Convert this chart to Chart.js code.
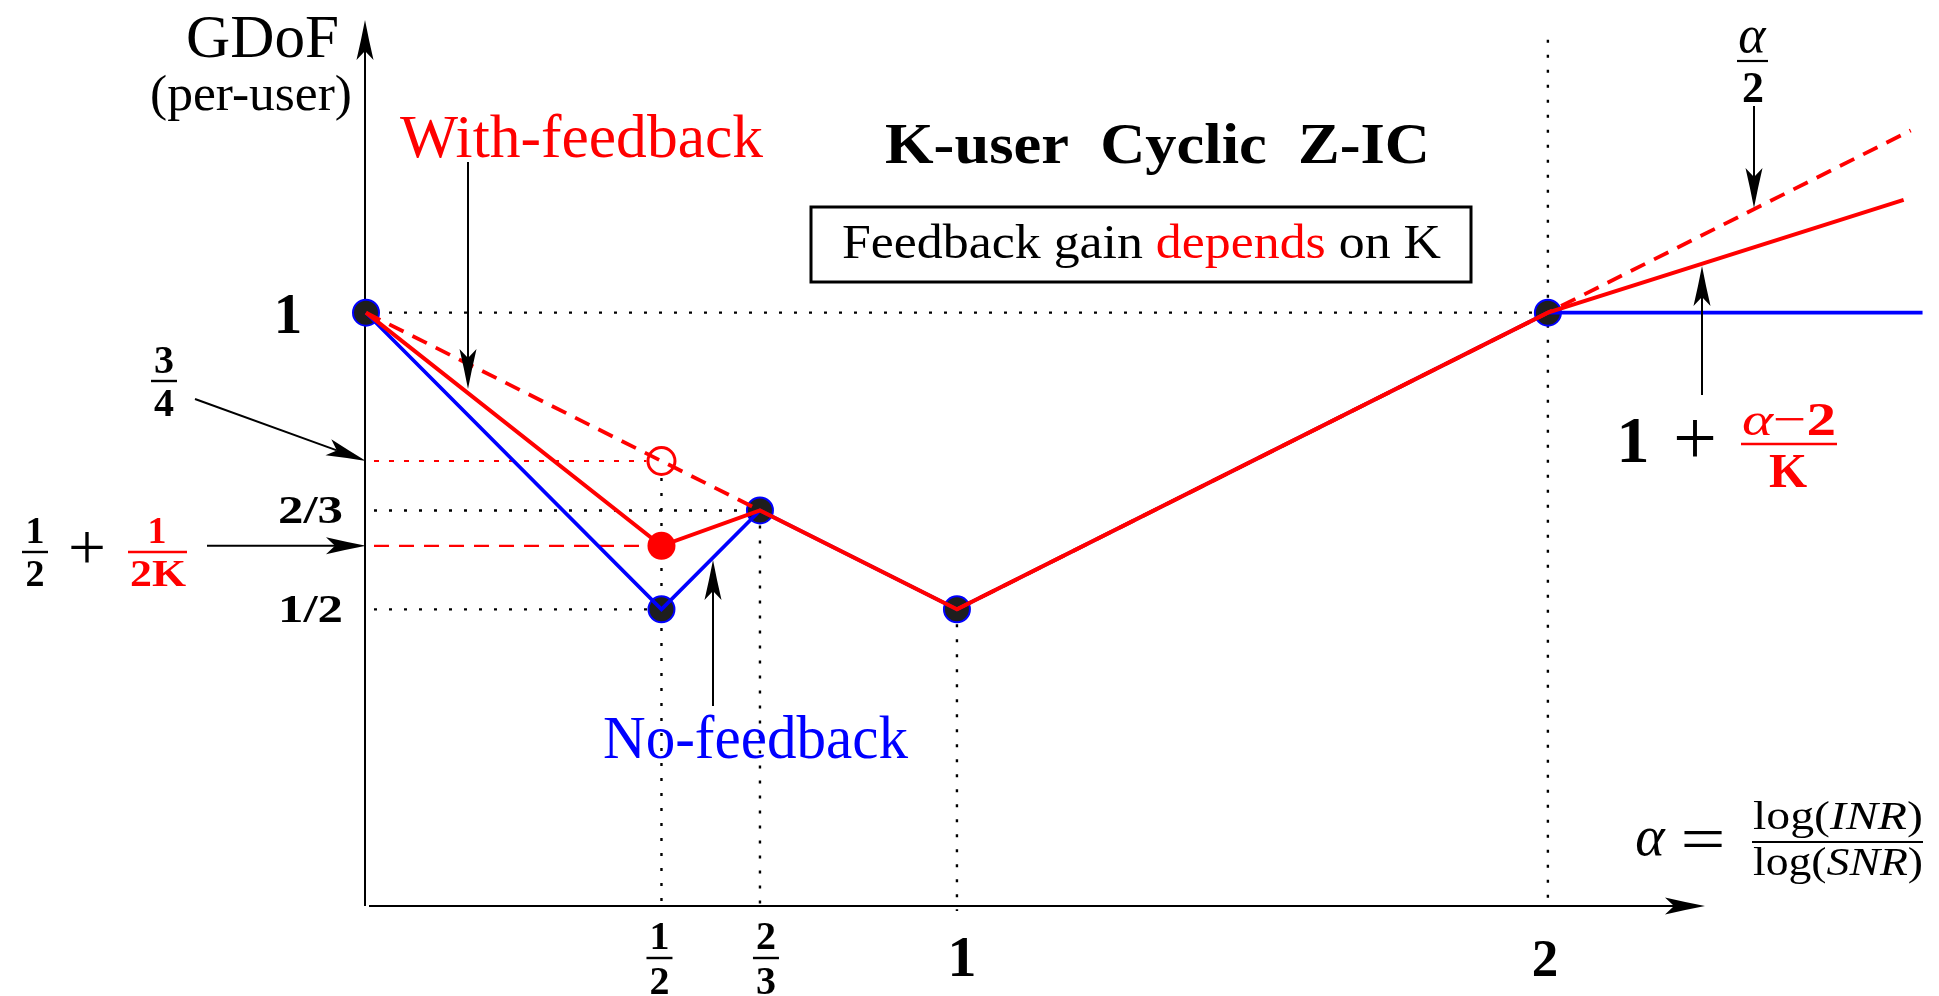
<!DOCTYPE html>
<html>
<head>
<meta charset="utf-8">
<script src="https://cdn.jsdelivr.net/npm/chart.js@4.4.0/dist/chart.umd.min.js"></script>
<style>
html,body{margin:0;padding:0;background:#fff;overflow:hidden}
canvas{display:block}
</style>
</head>
<body>
<canvas id="c" width="1939" height="996"></canvas>
<script>
// ---------- data (alpha = log INR / log SNR, GDoF per user) ----------
const cornerAlpha = [0, 1/2, 2/3, 1, 2];
const cornerGdof  = [1, 1/2, 2/3, 1/2, 1];

const noFeedbackAlpha = [0, 1/2, 2/3, 1, 2, 2.634];
const noFeedbackGdof  = [1, 1/2, 2/3, 1/2, 1, 1];

const withFeedbackAlpha = [0, 1/2, 2/3, 1, 2, 2.602];
const withFeedbackGdof  = [1, 0.607, 2/3, 1/2, 1, 1.19];

const boundLeftAlpha  = [0, 1/2, 2/3];
const boundLeftGdof   = [1, 3/4, 2/3];
const boundRightAlpha = [1, 2, 2.614];
const boundRightGdof  = [1/2, 1, 1.307];

const feedbackPointAlpha = [1/2];
const feedbackPointGdof  = [0.607];
const openPointAlpha = [1/2];
const openPointGdof  = [3/4];

const xTickValues = [1/2, 2/3, 1, 2];
const xTickLabels = [['1','2'], ['2','3'], '1', '2'];
const yTickValues = [1/2, 2/3];
const yTickLabels = ['1/2', '2/3'];

// ---------- helpers ----------
const pts = (xs, ys) => xs.map((x, i) => ({x: x, y: ys[i]}));
const SERIF = '"Liberation Serif", "Times New Roman", serif';
const F = (size, style) => (style ? style + ' ' : '') + size + 'px ' + SERIF;
const RED = '#ff0000', BLUE = '#0000ff';

function drawParts(ctx, parts, x, y, align, width) {
  ctx.save();
  let total = 0;
  const ws = parts.map(p => { ctx.font = p.f; const w = ctx.measureText(p.t).width; total += w; return w; });
  const target = width || total;
  const sx = target / total;
  const left = align === 'center' ? x - target / 2 : (align === 'right' ? x - target : x);
  ctx.translate(left, y);
  ctx.scale(sx, 1);
  ctx.textAlign = 'left';
  ctx.textBaseline = 'alphabetic';
  let cx = 0;
  parts.forEach((p, i) => { ctx.font = p.f; ctx.fillStyle = p.c; ctx.fillText(p.t, cx, 0); cx += ws[i]; });
  ctx.restore();
}
function txt(ctx, t, x, y, font, color, align, width) {
  drawParts(ctx, [{t: t, f: font, c: color || '#000'}], x, y, align || 'left', width);
}
function line(ctx, x1, y1, x2, y2, color, lw, dash) {
  ctx.save();
  ctx.strokeStyle = color; ctx.lineWidth = lw; ctx.setLineDash(dash || []);
  ctx.beginPath(); ctx.moveTo(x1, y1); ctx.lineTo(x2, y2); ctx.stroke();
  ctx.restore();
}
function arrow(ctx, x1, y1, x2, y2, lw) {
  const ang = Math.atan2(y2 - y1, x2 - x1);
  const L = 40, W = 8.5, IND = 9;
  const bx = x2 - Math.cos(ang) * (L - IND), by = y2 - Math.sin(ang) * (L - IND);
  line(ctx, x1, y1, bx, by, '#000', lw || 2);
  ctx.save();
  ctx.translate(x2, y2); ctx.rotate(ang);
  ctx.fillStyle = '#000';
  ctx.beginPath();
  ctx.moveTo(0, 0);
  ctx.quadraticCurveTo(-L * 0.5, -W * 0.45, -L, -W);
  ctx.lineTo(-L + IND, 0);
  ctx.lineTo(-L, W);
  ctx.quadraticCurveTo(-L * 0.5, W * 0.45, 0, 0);
  ctx.closePath();
  ctx.fill();
  ctx.restore();
}
function fracBar(ctx, x1, x2, y, color, lw) { line(ctx, x1, y, x2, y, color, lw || 2); }

// ---------- custom drawing plugin ----------
const diagramPlugin = {
  id: 'diagram',
  beforeDatasetsDraw(chart) {
    const ctx = chart.ctx;
    const xs = chart.scales.x, ys = chart.scales.y;
    const px = v => xs.getPixelForValue(v), py = v => ys.getPixelForValue(v);
    const x0 = px(0), y0 = py(0);
    const DOT = [3, 12];

    // axes with arrows
    arrow(ctx, x0 - 1, y0, x0 - 1, 20, 2);
    arrow(ctx, x0 + 3, y0, 1705, y0, 2);

    // black dotted guides
    line(ctx, x0 + 8, py(1), px(2), py(1), '#000', 2.4, DOT);
    line(ctx, x0 + 8, py(2/3), px(2/3), py(2/3), '#000', 2.4, DOT);
    line(ctx, x0 + 8, py(1/2), px(1/2), py(1/2), '#000', 2.4, DOT);
    line(ctx, px(1/2), py(3/4) + 17, px(1/2), y0 - 2, '#000', 2.4, DOT);
    line(ctx, px(2/3), py(2/3), px(2/3), y0 - 2, '#000', 2.4, DOT);
    line(ctx, px(1), py(1/2), px(1), y0 + 5, '#000', 2.4, DOT);
    line(ctx, px(2), py(1.46), px(2), y0 - 5, '#000', 2.4, DOT);

    // red guides
    line(ctx, x0 + 8, py(3/4), px(1/2) - 15, py(3/4), RED, 2, [5, 10]);
    line(ctx, x0 + 8, py(feedbackPointGdof[0]), px(1/2), py(feedbackPointGdof[0]), RED, 2.4, [15, 10]);
  },
  afterDraw(chart) {
    const ctx = chart.ctx;
    const xs = chart.scales.x, ys = chart.scales.y;
    const px = v => xs.getPixelForValue(v), py = v => ys.getPixelForValue(v);
    const x0 = px(0), y0 = py(0);

    // axis titles
    txt(ctx, 'GDoF', 339, 57, F(61), '#000', 'right', 153);
    txt(ctx, '(per-user)', 251, 110, F(51), '#000', 'center', 202);

    // x-axis label  alpha = log(INR)/log(SNR)
    txt(ctx, 'α', 1650, 855, F(56, 'italic'), '#000', 'center');
    txt(ctx, '=', 1703, 860, F(64), '#000', 'center', 45);
    drawParts(ctx, [{t:'log(', f:F(41), c:'#000'}, {t:'INR', f:F(41,'italic'), c:'#000'}, {t:')', f:F(41), c:'#000'}], 1753, 829, 'left', 170);
    fracBar(ctx, 1752, 1923, 842, '#000', 2);
    drawParts(ctx, [{t:'log(', f:F(41), c:'#000'}, {t:'SNR', f:F(41,'italic'), c:'#000'}, {t:')', f:F(41), c:'#000'}], 1753, 875, 'left', 170);

    // x tick labels
    const xTickDx = [-2, 6, 5, -3];
    xTickValues.forEach((v, i) => {
      const cx = px(v) + xTickDx[i];
      const lab = xTickLabels[i];
      if (Array.isArray(lab)) {
        txt(ctx, lab[0], cx, 949, F(40, 'bold'), '#000', 'center');
        fracBar(ctx, cx - 13, cx + 13, 958, '#000', 2.4);
        txt(ctx, lab[1], cx, 994, F(40, 'bold'), '#000', 'center');
      } else {
        txt(ctx, lab, cx, 976, F(i === 2 ? 58 : 53, 'bold'), '#000', 'center');
      }
    });

    // y tick labels
    txt(ctx, '1', 288, 333, F(57, 'bold'), '#000', 'center');
    yTickValues.forEach((v, i) => {
      txt(ctx, yTickLabels[i], 343, py(v) + 13, F(40, 'bold'), '#000', 'right', 65);
    });

    // 3/4 label + arrow
    txt(ctx, '3', 164, 373, F(40, 'bold'), '#000', 'center');
    fracBar(ctx, 151, 177, 381, '#000', 2.4);
    txt(ctx, '4', 164, 416, F(40, 'bold'), '#000', 'center');
    arrow(ctx, 195, 399, x0, py(3/4), 2);

    // 1/2 + 1/(2K) label + arrow
    txt(ctx, '1', 35, 543, F(38, 'bold'), '#000', 'center');
    fracBar(ctx, 22, 48, 552, '#000', 2.4);
    txt(ctx, '2', 35, 586, F(38, 'bold'), '#000', 'center');
    txt(ctx, '+', 87, 569, F(66), '#000', 'center', 38);
    txt(ctx, '1', 157, 543, F(38, 'bold'), RED, 'center');
    fracBar(ctx, 128, 187, 552, RED, 2.4);
    txt(ctx, '2K', 158, 586, F(38, 'bold'), RED, 'center', 56);
    arrow(ctx, 207, py(feedbackPointGdof[0]), x0, py(feedbackPointGdof[0]), 2);

    // titles
    txt(ctx, 'K-user  Cyclic  Z-IC', 885, 163, F(58, 'bold'), '#000', 'left', 545);
    ctx.save();
    ctx.strokeStyle = '#000'; ctx.lineWidth = 3;
    ctx.strokeRect(811, 207, 660, 75);
    ctx.restore();
    drawParts(ctx, [
      {t:'Feedback gain ', f:F(48), c:'#000'},
      {t:'depends', f:F(48), c:RED},
      {t:' on K', f:F(48), c:'#000'}
    ], 842, 258, 'left', 599);

    // series labels + arrows
    txt(ctx, 'With-feedback', 400, 157, F(61), RED, 'left', 363);
    arrow(ctx, 468, 162, 468, 389, 2);
    txt(ctx, 'No-feedback', 603, 758, F(61), BLUE, 'left', 305);
    arrow(ctx, 713, 706, 713, 560, 2);

    // alpha/2 label + arrow
    txt(ctx, 'α', 1752, 52, F(52, 'italic'), '#000', 'center');
    fracBar(ctx, 1737, 1768, 61, '#000', 2.2);
    txt(ctx, '2', 1753, 102, F(44, 'bold'), '#000', 'center');
    arrow(ctx, 1754, 106, 1754, 208, 2);

    // 1 + (alpha-2)/K label + arrow
    txt(ctx, '1', 1633, 462, F(66, 'bold'), '#000', 'center');
    txt(ctx, '+', 1695, 464, F(78), '#000', 'center', 44);
    drawParts(ctx, [
      {t:'α', f:F(47, 'italic'), c:RED},
      {t:'−', f:F(47), c:RED},
      {t:'2', f:F(47, 'bold'), c:RED}
    ], 1789, 435, 'center', 94);
    fracBar(ctx, 1741, 1837, 444, RED, 2.6);
    txt(ctx, 'K', 1788, 487, F(49, 'bold'), RED, 'center');
    arrow(ctx, 1702, 395, 1702, 266, 2);
  }
};

// ---------- chart ----------
new Chart(document.getElementById('c'), {
  type: 'scatter',
  data: {
    datasets: [
      { label: 'With-feedback', data: pts(withFeedbackAlpha, withFeedbackGdof), showLine: true,
        borderColor: RED, borderWidth: 4, pointRadius: 0, order: 1, clip: false },
      { label: 'Bound (left)', data: pts(boundLeftAlpha, boundLeftGdof), showLine: true,
        borderColor: RED, borderWidth: 3.8, borderDash: [16, 10], pointRadius: 0, order: 2, clip: false },
      { label: 'alpha/2', data: pts(boundRightAlpha, boundRightGdof), showLine: true,
        borderColor: RED, borderWidth: 3.8, borderDash: [16, 10], pointRadius: 0, order: 2, clip: false },
      { label: 'No-feedback', data: pts(noFeedbackAlpha, noFeedbackGdof), showLine: true,
        borderColor: BLUE, borderWidth: 3.6, pointRadius: 0, order: 3, clip: false },
      { label: 'Corners', data: pts(cornerAlpha, cornerGdof), showLine: false,
        pointRadius: 13, pointBackgroundColor: '#1e1e1e', pointBorderColor: BLUE, pointBorderWidth: 2,
        order: 5, clip: false },
      { label: 'Feedback point', data: pts(feedbackPointAlpha, feedbackPointGdof), showLine: false,
        pointRadius: 14, pointBackgroundColor: RED, pointBorderColor: RED, pointBorderWidth: 0,
        order: 5, clip: false },
      { label: 'Open point', data: pts(openPointAlpha, openPointGdof), showLine: false,
        pointRadius: 13.5, pointBackgroundColor: 'rgba(0,0,0,0)', pointBorderColor: RED, pointBorderWidth: 3,
        order: 5, clip: false }
    ]
  },
  options: {
    responsive: false,
    animation: false,
    devicePixelRatio: 1,
    layout: { autoPadding: false, padding: { left: 366, right: 7, top: 16, bottom: 90 } },
    scales: {
      x: { type: 'linear', min: 0, max: 2.65, display: false },
      y: { type: 'linear', min: 0, max: 1.5, display: false }
    },
    plugins: { legend: { display: false }, tooltip: { enabled: false } },
    events: []
  },
  plugins: [diagramPlugin]
});
</script>
</body>
</html>
